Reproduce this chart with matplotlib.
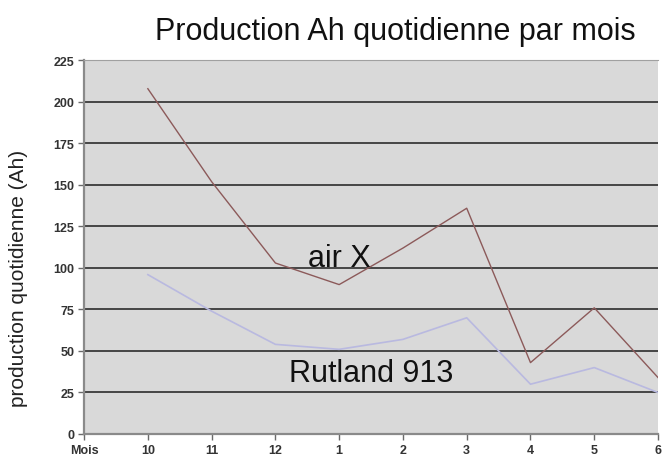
import numpy as np
import matplotlib.pyplot as plt

plt.rcParams['font.family'] = ['Liberation Sans', 'DejaVu Sans']

# data
mois = ["10", "11", "12", "1", "2", "3", "4", "5", "6"]
air_x = [208, 152, 103, 90, 112, 136, 43, 76, 34]
rutland = [96, 74, 54, 51, 57, 70, 30, 40, 25]
y_ticks = list(range(0, 226, 25))

fig = plt.figure(figsize=(6.62, 4.64), dpi=100)
ax = fig.add_axes([0.127, 0.0625, 0.867, 0.805])
ax.set_facecolor("#d9d9d9")

x = np.arange(1, len(mois) + 1)
ax.plot(x, air_x, color="#8c5a5a", lw=1.0, zorder=3)
ax.plot(x, rutland, color="#b9b9e0", lw=1.2, zorder=3)

ax.set_xlim(0, len(mois))
ax.set_ylim(0, 225)
ax.set_yticks(y_ticks)
ax.set_yticklabels([str(v) for v in y_ticks], fontsize=9, fontweight="bold", color="#333333")
ax.set_xticks(np.arange(0, len(mois) + 1))
ax.set_xticklabels(["Mois"] + mois, fontsize=9, fontweight="bold", color="#333333")

for v in y_ticks[1:-1]:
    ax.axhline(v, color="#3a3a3a", lw=1.3, zorder=2)

for side in ["left", "bottom"]:
    ax.spines[side].set_color("#8a8a8a")
    ax.spines[side].set_linewidth(1.6)
ax.spines["top"].set_color("#a0a0a0")
ax.spines["right"].set_visible(False)
ax.tick_params(axis="both", direction="out", length=4, color="#6a6a6a", width=1, pad=3)

ax.set_ylabel("production quotidienne (Ah)", fontsize=15, color="#222222",
              va="center")
ax.yaxis.set_label_coords(-0.115, 0.42)

ax.text(4.0, 106, "air X", fontsize=22, ha="center", va="center", color="#111111")
ax.text(4.5, 37, "Rutland 913", fontsize=22, ha="center", va="center", color="#111111")

fig.text(0.597, 0.93, "Production Ah quotidienne par mois", fontsize=22,
         ha="center", va="center", color="#111111")

fig.savefig("out.png", dpi=100)
